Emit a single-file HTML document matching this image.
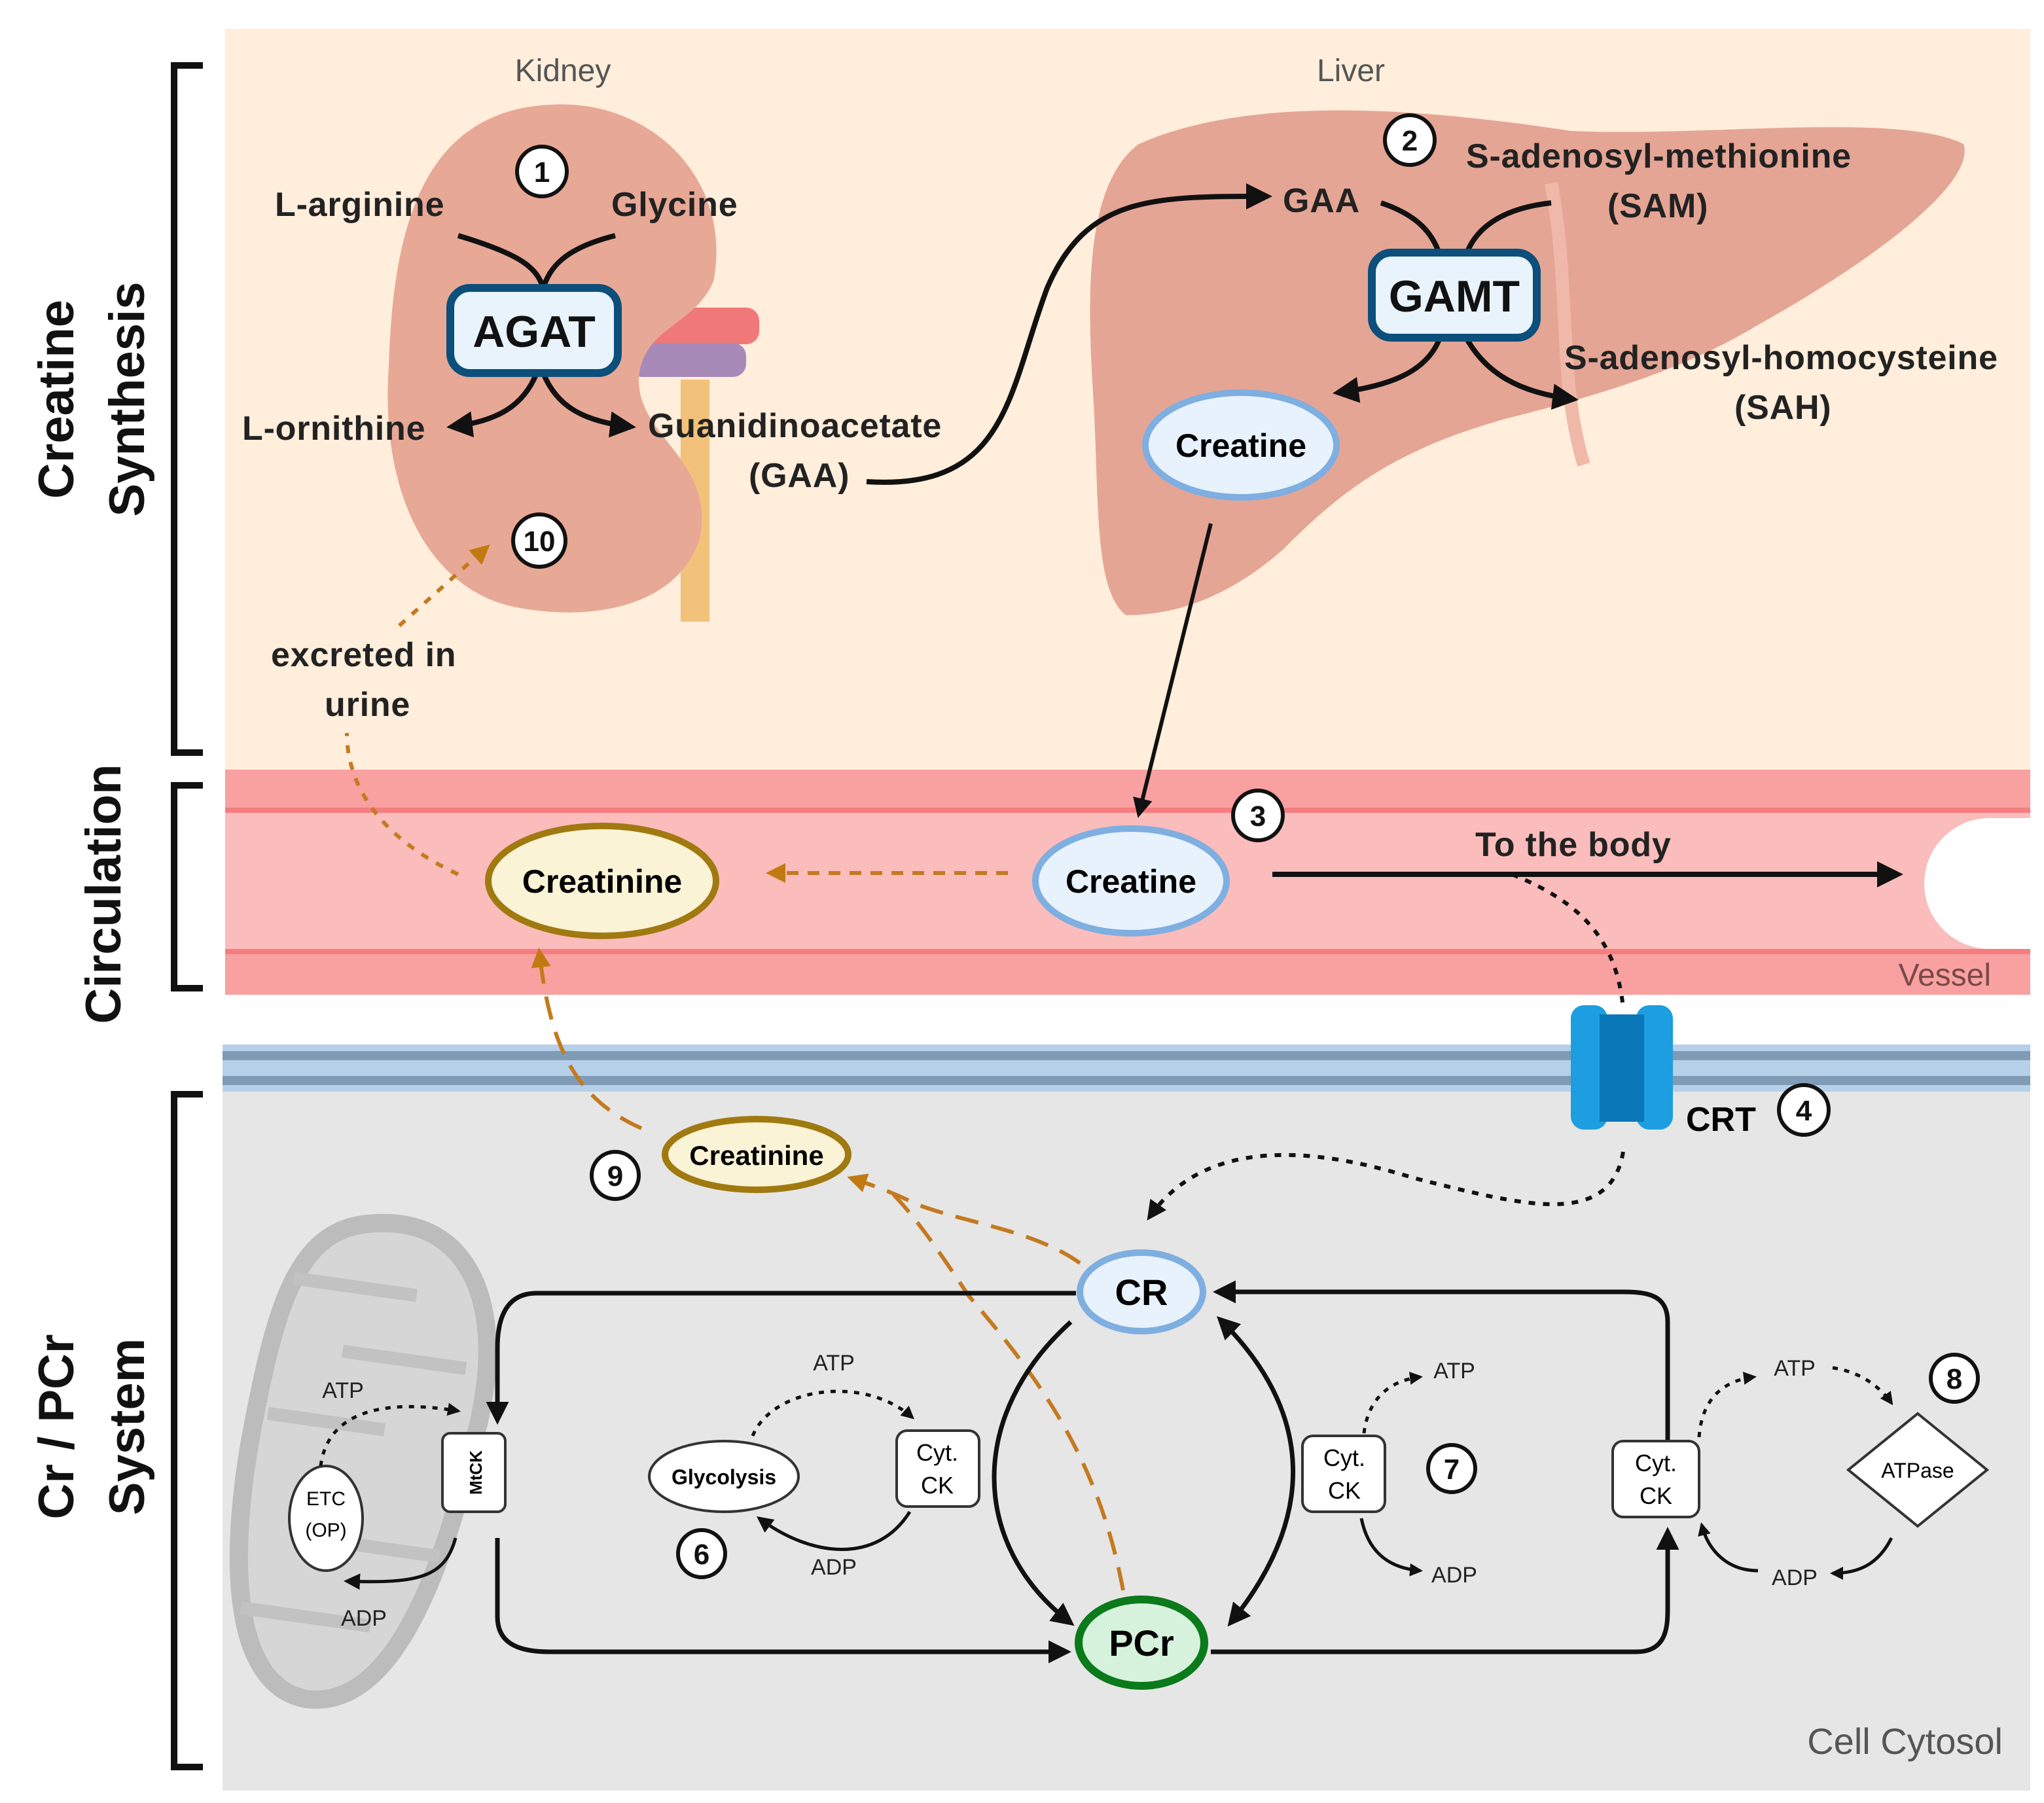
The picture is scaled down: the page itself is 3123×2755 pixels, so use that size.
<!DOCTYPE html>
<html><head><meta charset="utf-8"><style>
html,body{margin:0;padding:0;background:#fff}
svg{display:block}
text{font-family:"Liberation Sans",sans-serif}
</style></head><body>
<svg width="3123" height="2755" viewBox="0 0 1561.5 1377.5" xmlns="http://www.w3.org/2000/svg">
<defs>
<marker id="a" viewBox="0 0 10 10" refX="8" refY="5" markerWidth="5" markerHeight="5" orient="auto-start-reverse"><path d="M0,0L10,5L0,10z" fill="#111"/></marker>
<marker id="as" viewBox="0 0 10 10" refX="8" refY="5" markerWidth="4" markerHeight="4" orient="auto-start-reverse"><path d="M0,0L10,5L0,10z" fill="#111"/></marker>
<marker id="o" viewBox="0 0 10 10" refX="8" refY="5" markerWidth="5" markerHeight="5" orient="auto"><path d="M0,0L10,5L0,10z" fill="#c07a10"/></marker>
</defs>
<rect x="172" y="22" width="1379" height="566" fill="#feeedb"/>
<rect x="172" y="588" width="1379" height="172" fill="#fbbcbc"/>
<rect x="172" y="588" width="1379" height="32" fill="#f9a0a0"/>
<rect x="172" y="727" width="1379" height="33" fill="#f9a0a0"/>
<rect x="172" y="617" width="1379" height="4" fill="#f57d80"/>
<rect x="172" y="725" width="1379" height="4" fill="#f57d80"/>
<path d="M1551,625 L1520,625 A50,50 0 0 0 1520,725 L1551,725z" fill="#fff"/>
<rect x="170" y="798" width="1381" height="36" fill="#b6d0ea"/>
<rect x="170" y="803" width="1381" height="7" fill="#7f9bb5"/>
<rect x="170" y="822" width="1381" height="7" fill="#7f9bb5"/>
<rect x="170" y="834" width="1381" height="534" fill="#e6e6e6"/>
<g fill="none" stroke="#111" stroke-width="5">
<path d="M155,50 H133 V575 H155"/>
<path d="M155,600 H133 V755 H155"/>
<path d="M155,836 H133 V1350 H155"/>
</g>
<g font-weight="bold" font-size="38" fill="#111" text-anchor="middle">
<text transform="translate(56,305) rotate(-90)">Creatine</text>
<text transform="translate(110,305) rotate(-90)">Synthesis</text>
<text transform="translate(92,683) rotate(-90)">Circulation</text>
<text transform="translate(56,1090) rotate(-90)">Cr / PCr</text>
<text transform="translate(110,1090) rotate(-90)">System</text>
</g>
<rect x="520" y="290" width="22" height="185" fill="#f2c27a"/>
<rect x="490" y="235" width="90" height="28" rx="10" fill="#f07878"/>
<rect x="480" y="262" width="90" height="26" rx="10" fill="#a88ab8"/>
<path d="M420,80 C500,75 560,140 545,215 C530,250 490,250 488,290 C488,335 545,350 535,410 C520,460 460,475 400,465 C330,455 290,380 297,280 C300,180 320,85 420,80z" fill="#e8a896"/>
<text x="430" y="62" font-size="24" fill="#555" text-anchor="middle">Kidney</text>
<path d="M870,110 C960,70 1100,85 1200,100 C1300,105 1450,85 1500,110 C1510,140 1430,200 1340,250 C1290,280 1230,300 1150,320 C1060,345 1020,380 980,420 C940,455 900,470 860,470 C835,450 840,380 835,300 C830,220 830,140 870,110z" fill="#e5a595"/>
<path d="M1185,140 C1200,220 1190,290 1210,355" stroke="#f0b8a8" stroke-width="10" fill="none"/>
<text x="1032" y="62" font-size="24" fill="#555" text-anchor="middle">Liver</text>
<g font-size="22" font-weight="bold" text-anchor="middle" fill="#111">
<g stroke="#111" stroke-width="3" fill="#fff">
<circle cx="414" cy="131" r="19"/><circle cx="1077" cy="107" r="19"/><circle cx="412" cy="413" r="20"/>
<circle cx="961" cy="623" r="19"/><circle cx="1378" cy="848" r="19"/><circle cx="470" cy="898" r="18"/>
<circle cx="295" cy="1000" r="18"/><circle cx="536" cy="1187" r="18"/><circle cx="1109" cy="1122" r="18"/><circle cx="1493" cy="1053" r="18"/>
</g>
<text x="414" y="139">1</text><text x="1077" y="115">2</text><text x="412" y="421">10</text>
<text x="961" y="631">3</text><text x="1378" y="856">4</text><text x="470" y="906">9</text>
<text x="295" y="1008">5</text><text x="536" y="1195">6</text><text x="1109" y="1130">7</text><text x="1493" y="1061">8</text>
</g>
<g font-size="26" font-weight="bold" fill="#222" letter-spacing="0.4">
<text x="210" y="165">L-arginine</text>
<text x="467" y="165">Glycine</text>
<text x="185" y="336">L-ornithine</text>
<text x="495" y="334">Guanidinoacetate</text>
<text x="572" y="372">(GAA)</text>
<text x="980" y="162">GAA</text>
<text x="1120" y="128">S-adenosyl-methionine</text>
<text x="1228" y="166">(SAM)</text>
<text x="1195" y="282">S-adenosyl-homocysteine</text>
<text x="1325" y="320">(SAH)</text>
<text x="207" y="509">excreted in</text>
<text x="248" y="547">urine</text>
<text x="1127" y="654">To the body</text>
</g>
<g fill="none" stroke="#111" stroke-width="4">
<path d="M350,180 C400,195 410,205 415,220"/>
<path d="M470,180 C430,190 420,205 415,220"/>
<path d="M410,285 C400,310 380,322 345,326" marker-end="url(#a)"/>
<path d="M415,285 C425,310 445,322 482,326" marker-end="url(#a)"/>
<path d="M662,368 C770,375 770,300 800,220 C830,150 880,150 968,150" marker-end="url(#a)"/>
<path d="M1055,155 C1085,165 1095,180 1100,195"/>
<path d="M1185,155 C1140,160 1125,180 1120,195"/>
<path d="M1100,258 C1090,285 1060,295 1022,300" marker-end="url(#a)"/>
<path d="M1120,258 C1135,285 1160,300 1202,305" marker-end="url(#a)"/>
<path d="M925,400 L870,622" marker-end="url(#a)" stroke-width="3"/>
<path d="M972,668 H1450" marker-end="url(#a)"/>
</g>
<rect x="344" y="220" width="128" height="65" rx="15" fill="#e8f3fb" stroke="#0b4f7a" stroke-width="6"/>
<text x="408" y="265" font-size="34" font-weight="bold" text-anchor="middle" fill="#111">AGAT</text>
<rect x="1048" y="193" width="126" height="65" rx="15" fill="#e8f3fb" stroke="#0b4f7a" stroke-width="6"/>
<text x="1111" y="238" font-size="34" font-weight="bold" text-anchor="middle" fill="#111">GAMT</text>
<ellipse cx="948" cy="340" rx="73" ry="40" fill="#e8f2fd" stroke="#7faee0" stroke-width="5"/>
<text x="948" y="349" font-size="25" font-weight="bold" text-anchor="middle">Creatine</text>
<ellipse cx="864" cy="673" rx="73" ry="40" fill="#e8f2fd" stroke="#7faee0" stroke-width="5"/>
<text x="864" y="682" font-size="25" font-weight="bold" text-anchor="middle">Creatine</text>
<ellipse cx="460" cy="673" rx="87" ry="42" fill="#fbf3d5" stroke="#a07a10" stroke-width="5"/>
<text x="460" y="682" font-size="25" font-weight="bold" text-anchor="middle">Creatinine</text>
<ellipse cx="578" cy="882" rx="70" ry="27" fill="#fbf3d5" stroke="#a07a10" stroke-width="5"/>
<text x="578" y="890" font-size="21" font-weight="bold" text-anchor="middle">Creatinine</text>
<g fill="none" stroke="#c47a20" stroke-width="3">
<path d="M770,667 H588" stroke-dasharray="9,7" marker-end="url(#o)"/>
<path d="M350,668 C290,640 265,600 265,560" stroke-dasharray="6,7"/>
<path d="M305,478 L372,418" stroke-dasharray="6,7" marker-end="url(#o)"/>
<path d="M490,862 C440,840 420,800 412,727" stroke-dasharray="18,10" marker-end="url(#o)"/>
<path d="M825,965 C790,940 740,935 700,920 C680,910 665,905 650,900" stroke-dasharray="18,10" marker-end="url(#o)"/>
<path d="M858,1215 C840,1120 800,1060 740,990 C720,960 700,930 680,910" stroke-dasharray="18,10"/>
</g>
<rect x="1200" y="768" width="28" height="95" rx="10" fill="#1d9ee0"/>
<rect x="1250" y="768" width="28" height="95" rx="10" fill="#1d9ee0"/>
<rect x="1222" y="775" width="34" height="82" fill="#0a78b8"/>
<text x="1288" y="864" font-size="26" font-weight="bold">CRT</text>
<g fill="none" stroke="#111" stroke-width="3" stroke-dasharray="5,6">
<path d="M1155,668 C1210,690 1235,720 1240,770"/>
<path d="M1240,880 C1230,940 1160,920 1080,900 C1000,875 920,870 878,930" marker-end="url(#a)"/>
</g>
<g transform="rotate(8 275 1118)">
<path d="M260,935 C330,920 370,980 360,1080 C350,1180 330,1300 260,1302 C200,1300 185,1200 190,1100 C195,1000 205,945 260,935z" fill="#d6d6d6" stroke="#bcbcbc" stroke-width="14"/>
<g stroke="#c2c2c2" stroke-width="10" fill="none">
<path d="M205,985 H300"/><path d="M250,1035 H345"/><path d="M200,1090 H290"/><path d="M255,1180 H345"/><path d="M200,1240 H300"/>
</g>
</g>
<ellipse cx="249" cy="1160" rx="28" ry="40" fill="#fff" stroke="#333" stroke-width="2"/>
<text x="249" y="1150" font-size="15" text-anchor="middle">ETC</text>
<text x="249" y="1174" font-size="15" text-anchor="middle">(OP)</text>
<rect x="338" y="1095" width="48" height="60" rx="6" fill="#fff" stroke="#333" stroke-width="2"/>
<text transform="translate(368,1125) rotate(-90)" font-size="13" font-weight="bold" text-anchor="middle">MtCK</text>
<g font-size="17" text-anchor="middle" fill="#222">
<text x="262" y="1068">ATP</text><text x="278" y="1242">ADP</text>
<text x="637" y="1047">ATP</text><text x="637" y="1203">ADP</text>
<text x="1111" y="1053">ATP</text><text x="1111" y="1209">ADP</text>
<text x="1371" y="1051">ATP</text><text x="1371" y="1211">ADP</text>
</g>
<ellipse cx="553" cy="1128" rx="57" ry="27" fill="#fff" stroke="#333" stroke-width="2"/>
<text x="553" y="1134" font-size="16" font-weight="bold" text-anchor="middle">Glycolysis</text>
<g fill="#fff" stroke="#333" stroke-width="2">
<rect x="685" y="1093" width="63" height="58" rx="8"/>
<rect x="995" y="1097" width="63" height="58" rx="8"/>
<rect x="1232" y="1101" width="66" height="58" rx="8"/>
<path d="M1465,1080 L1518,1123 L1465,1166 L1412,1123z"/>
</g>
<g font-size="18" text-anchor="middle">
<text x="716" y="1116">Cyt.</text><text x="716" y="1141">CK</text>
<text x="1027" y="1120">Cyt.</text><text x="1027" y="1145">CK</text>
<text x="1265" y="1124">Cyt.</text><text x="1265" y="1149">CK</text>
<text x="1465" y="1129" font-size="16">ATPase</text>
</g>
<ellipse cx="872" cy="987" rx="47" ry="30" fill="#e8f2fd" stroke="#7faee0" stroke-width="5"/>
<text x="872" y="997" font-size="28" font-weight="bold" text-anchor="middle">CR</text>
<ellipse cx="872" cy="1255" rx="48" ry="33" fill="#d6f2dc" stroke="#0a7a1a" stroke-width="6"/>
<text x="872" y="1265" font-size="28" font-weight="bold" text-anchor="middle">PCr</text>
<g fill="none" stroke="#111" stroke-width="3.5">
<path d="M822,988 H410 C385,988 380,1010 380,1030 V1085" marker-end="url(#a)"/>
<path d="M380,1175 V1235 C380,1255 395,1262 420,1262 H815" marker-end="url(#a)"/>
<path d="M925,1262 H1250 C1272,1262 1274,1245 1274,1230 V1170" marker-end="url(#a)"/>
<path d="M1274,1100 V1010 C1274,990 1260,987 1240,987 H930" marker-end="url(#a)"/>
<path d="M818,1010 C740,1080 740,1180 818,1240" marker-end="url(#a)"/>
<path d="M940,1240 C1005,1160 1005,1080 932,1008" marker-end="url(#a)" marker-start="url(#a)"/>
<path d="M695,1155 C670,1195 620,1190 580,1160" marker-end="url(#a)" stroke-width="2.5"/>
<path d="M348,1175 C340,1205 320,1210 265,1208" marker-end="url(#a)" stroke-width="2.5"/>
<path d="M1040,1160 C1045,1185 1060,1198 1085,1200" marker-end="url(#as)" stroke-width="2.5"/>
<path d="M1445,1175 C1435,1195 1420,1202 1400,1202" marker-end="url(#as)" stroke-width="2.5"/>
<path d="M1343,1200 C1320,1200 1305,1185 1300,1165" marker-end="url(#as)" stroke-width="2.5"/>
</g>
<g fill="none" stroke="#111" stroke-width="2.5" stroke-dasharray="4,5">
<path d="M245,1120 C250,1080 290,1068 350,1078" marker-end="url(#as)"/>
<path d="M575,1097 C590,1060 660,1050 697,1083" marker-end="url(#as)"/>
<path d="M1042,1095 C1045,1070 1060,1055 1085,1052" marker-end="url(#as)"/>
<path d="M1298,1098 C1300,1070 1315,1055 1340,1052" marker-end="url(#as)"/>
<path d="M1400,1045 C1420,1048 1435,1058 1445,1072" marker-end="url(#as)"/>
</g>
<text x="1521" y="753" font-size="24" fill="#7a4848" text-anchor="end">Vessel</text>
<text x="1530" y="1340" font-size="28" fill="#555" text-anchor="end">Cell Cytosol</text>
</svg>
</body></html>
